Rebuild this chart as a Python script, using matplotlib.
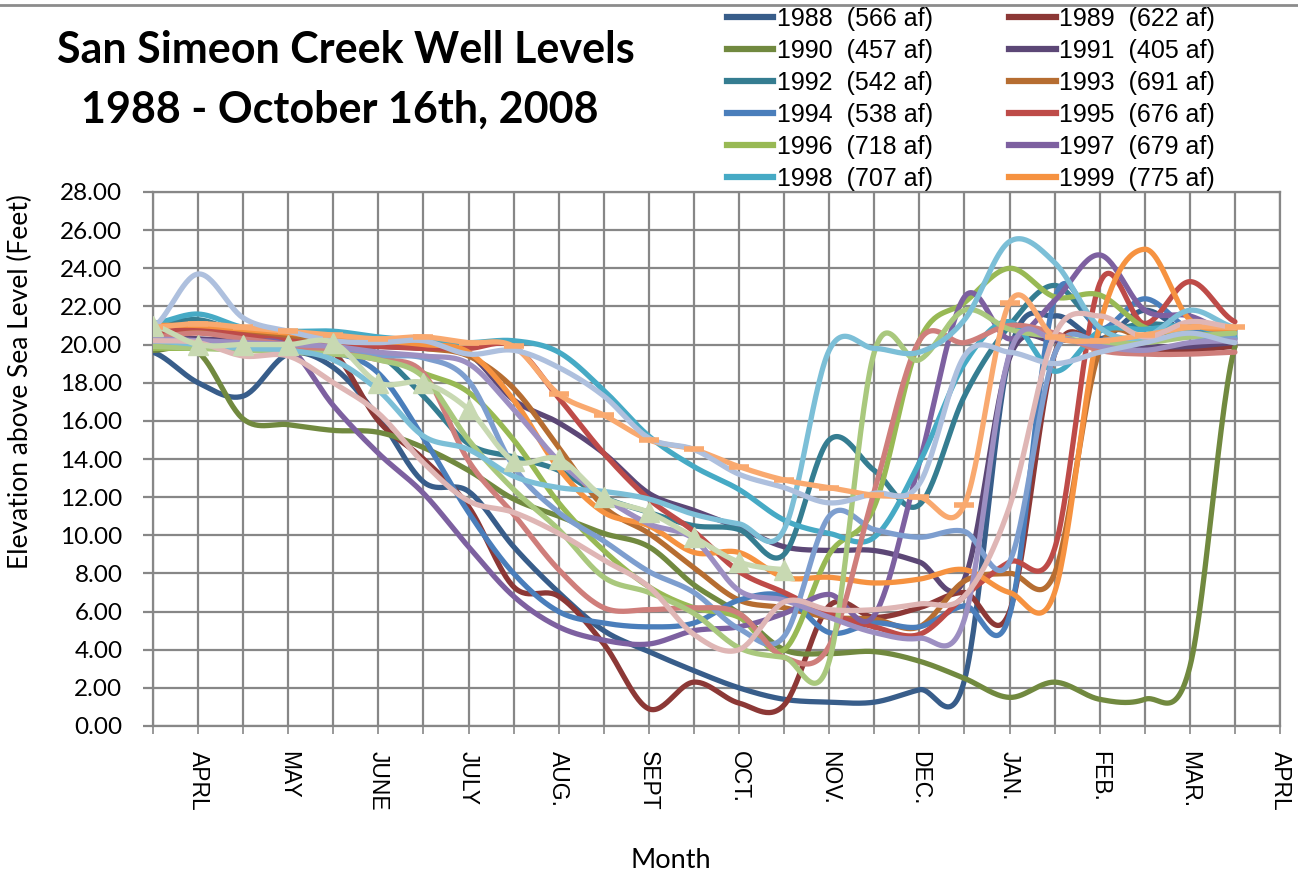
import numpy as np
import matplotlib
matplotlib.use("Agg")
import matplotlib.pyplot as plt
from matplotlib.lines import Line2D

# ----------------------------------------------------------------------
# data: well level readings (ft above sea level), two per month,
# from mid March to the following April
# ----------------------------------------------------------------------
month_labels = ["APRL", "MAY", "JUNE", "JULY", "AUG.", "SEPT", "OCT.",
                "NOV.", "DEC.", "JAN.", "FEB.", "MAR.", "APRL"]

years = ["1988", "1989", "1990", "1991", "1992", "1993",
         "1994", "1995", "1996", "1997", "1998", "1999",
         "2000", "2001", "2002", "2003", "2004", "2005", "2006", "2007", "2008"]
acre_feet = [566, 622, 457, 405, 542, 691, 538, 676, 718, 679, 707, 775]

y1988 = [19.6, 18.0, 17.3, 19.5, 18.8, 16.2, 12.8, 12.3, 9.4, 7.0, 5.0, 3.9, 2.9,
         2.0, 1.4, 1.25, 1.25, 1.9, 2.4, 19.5, 21.5, 20.3, 21.8, 20.5, 20.3]
y1989 = [20.5, 20.8, 20.5, 20.0, 19.6, 16.0, 14.0, 11.5, 7.3, 6.8, 4.3, 0.9, 2.3,
         1.2, 1.1, 6.3, 5.7, 6.2, 7.0, 6.0, 19.5, 20.0, 19.8, 19.7, 19.9]
y1990 = [19.7, 19.6, 16.1, 15.8, 15.5, 15.4, 14.6, 13.4, 11.9, 11.0, 10.1, 9.4, 7.4,
         5.9, 4.0, 3.8, 3.9, 3.4, 2.5, 1.5, 2.3, 1.4, 1.4, 3.1, 19.9]
y1991 = [20.5, 20.3, 20.2, 20.0, 20.0, 19.9, 19.8, 19.5, 17.1, 15.9, 14.3, 12.2, 11.3,
         10.4, 9.4, 9.2, 9.2, 8.6, 7.7, 19.3, 20.2, 20.0, 19.9, 19.9, 20.1]
y1992 = [21.0, 21.3, 20.6, 20.3, 20.1, 19.5, 17.3, 14.8, 14.1, 13.4, 12.0, 11.2, 10.5,
         10.3, 9.0, 15.0, 13.4, 11.6, 17.3, 21.0, 23.1, 20.9, 21.1, 20.9, 20.7]
y1993 = [20.7, 20.8, 20.7, 20.4, 20.2, 20.0, 19.8, 19.4, 17.7, 14.6, 11.5, 10.1, 8.3,
         6.6, 6.2, 5.7, 5.6, 5.2, 7.6, 8.0, 8.0, 19.7, 20.4, 20.8, 20.8]
y1994 = [20.0, 20.1, 20.0, 19.8, 19.6, 18.5, 15.1, 11.2, 8.0, 6.0, 5.4, 5.2, 5.4,
         6.6, 6.8, 4.9, 5.4, 5.2, 6.3, 5.8, 22.4, 20.8, 22.4, 20.8, 20.6]
y1995 = [20.6, 20.9, 20.5, 20.2, 20.0, 19.9, 19.8, 19.8, 19.9, 17.2, 14.3, 11.9, 10.2,
         8.1, 7.0, 5.9, 5.2, 4.8, 6.8, 8.6, 9.3, 23.2, 21.1, 23.3, 21.2]
y1996 = [19.8, 19.8, 19.8, 19.7, 19.7, 19.4, 18.5, 17.5, 15.0, 11.7, 9.2, 7.3, 6.2,
         5.7, 4.0, 9.0, 11.5, 20.2, 22.2, 24.0, 22.5, 22.6, 20.9, 20.6, 20.4]
y1997 = [20.3, 20.2, 20.1, 19.9, 16.8, 14.3, 12.2, 9.4, 6.8, 5.2, 4.5, 4.3, 5.0,
         5.2, 5.9, 6.9, 5.8, 13.8, 22.5, 20.3, 22.3, 24.7, 21.8, 21.5, 20.5]
y1998 = [21.1, 21.6, 20.9, 20.7, 20.7, 20.4, 20.2, 20.1, 20.2, 19.6, 17.6, 15.2, 13.6,
         12.4, 10.8, 10.1, 9.9, 13.8, 19.0, 21.2, 18.6, 20.7, 20.8, 21.0, 20.4]
y1999 = [21.0, 21.0, 20.8, 20.6, 20.4, 20.2, 20.0, 19.6, 17.1, 13.5, 11.2, 10.5, 9.1,
         9.1, 7.8, 7.8, 7.5, 7.7, 8.2, 7.0, 7.0, 21.0, 25.0, 21.3, 20.8]
y2000 = [20.1, 20.0, 19.9, 19.8, 19.6, 19.4, 19.3, 18.1, 13.6, 11.2, 9.7, 8.1, 7.0,
         5.1, 4.7, 11.0, 10.3, 9.9, 10.2, 8.6, 19.5, 20.2, 20.3, 20.4, 20.3]
y2001 = [20.4, 20.6, 20.3, 20.0, 19.6, 19.2, 18.5, 13.9, 11.1, 8.2, 6.2, 6.1, 6.2,
         5.9, 3.6, 4.2, 12.3, 20.2, 20.1, 21.0, 20.6, 19.7, 19.5, 19.5, 19.6]
y2002 = [19.9, 19.8, 19.7, 19.6, 19.5, 19.2, 18.3, 15.0, 12.4, 10.3, 7.8, 7.0, 5.9,
         4.1, 3.6, 3.4, 19.6, 19.2, 21.8, 20.8, 20.4, 20.1, 20.1, 20.4, 20.6]
y2003 = [20.3, 20.2, 20.1, 20.0, 19.9, 19.6, 19.4, 19.0, 16.6, 13.9, 12.0, 10.6, 9.8,
         7.1, 6.6, 5.7, 4.9, 4.6, 5.6, 19.5, 20.3, 19.9, 19.7, 20.1, 20.2]
y2004 = [20.2, 20.0, 19.8, 19.7, 19.2, 17.6, 15.2, 14.5, 13.1, 12.5, 12.3, 11.9, 11.1,
         10.6, 10.3, 19.7, 19.8, 19.6, 21.3, 25.4, 24.3, 20.9, 20.4, 21.8, 20.9]
y2005 = [20.9, 21.1, 20.9, 20.7, 20.5, 20.3, 20.4, 20.1, 19.9, 17.4, 16.3, 15.0, 14.5,
         13.6, 12.9, 12.5, 12.1, 12.0, 11.6, 22.2, 20.4, 20.2, 20.5, 20.9, 20.9]
y2006 = [20.9, 23.7, 21.4, 20.7, 20.2, 20.1, 20.2, 19.5, 19.7, 18.8, 17.3, 15.1, 14.5,
         13.2, 12.5, 11.7, 12.2, 12.7, 19.4, 19.6, 19.0, 19.6, 20.1, 20.6, 20.1]
y2007 = [20.2, 20.1, 19.4, 19.4, 18.0, 16.4, 13.8, 11.8, 11.2, 10.1, 8.7, 7.3, 4.8,
         4.0, 6.5, 6.1, 6.1, 6.4, 6.8, 11.5, 20.5, 21.5, 20.4, 21.2, 20.9]
# 2008 only runs to October 16th
y2008 = [21.0, 20.0, 20.0, 20.0, 20.1, 18.0, 18.0, 16.6, 13.9, 14.0, 12.0, 11.2, 9.9,
         8.6, 8.2]

series = [y1988, y1989, y1990, y1991, y1992, y1993, y1994, y1995, y1996, y1997,
          y1998, y1999, y2000, y2001, y2002, y2003, y2004, y2005, y2006, y2007, y2008]

colors = ["#385D8A", "#8C3836", "#71893F", "#5C4776", "#357D91", "#B66D31",
          "#4A7EBB", "#BE4B48", "#98B954", "#7D60A0", "#46AAC5", "#F69240",
          "#7D9ECF", "#CF7E7B", "#A9C87D", "#9D8FC2", "#7CBFD7", "#F9A96F",
          "#AEC0DE", "#DFB6B5", "#C8D9B2"]


def smooth(vals, n=30):
    """Excel style smoothed line (bezier through every point)."""
    v = np.asarray(vals, float)
    p = np.concatenate([[v[0]], v, [v[-1]]])
    t = np.linspace(0, 1, n, endpoint=False)
    xs, ys = [], []
    for i in range(len(v) - 1):
        p0, p1, p2, p3 = p[i], p[i + 1], p[i + 2], p[i + 3]
        c1 = p1 + (p2 - p0) / 6
        c2 = p2 - (p3 - p1) / 6
        seg = (1 - t) ** 3 * p1 + 3 * (1 - t) ** 2 * t * c1 + 3 * (1 - t) * t ** 2 * c2 + t ** 3 * p2
        xs.append(i + t)
        ys.append(seg)
    xs.append([len(v) - 1])
    ys.append([v[-1]])
    return np.concatenate(xs), np.concatenate(ys)


# ----------------------------------------------------------------------
# figure
# ----------------------------------------------------------------------
fig = plt.figure(figsize=(12.98, 8.73), dpi=100)
ax = fig.add_axes([153 / 1298, 1 - 726 / 873, (1280 - 153) / 1298, (726 - 192) / 873])

grid_col = "#878787"
for yr, vals, col in zip(years, series, colors):
    xs, ys = smooth(vals)
    ax.plot(xs, ys, color=col, lw=3.8, solid_capstyle="round", zorder=3)

# markers on the two marked series
ax.plot(range(len(y2005)), y2005, ls="none", marker="_", ms=14, mew=4,
        color=colors[17], zorder=3)
ax.plot(range(len(y2008)), y2008, ls="none", marker="^", ms=15,
        color=colors[20], mec=colors[20], zorder=4)

ax.set_xlim(0, 25)
ax.set_ylim(0, 28)
ax.set_yticks(np.arange(0, 28.1, 2))
ax.set_yticklabels([f"{v:.2f}" for v in np.arange(0, 28.1, 2)])
ax.set_xticks(range(26))
xlabels = [""] * 26
for k, m in enumerate(month_labels):
    xlabels[2 * k + 1] = m
ax.set_xticklabels(xlabels, rotation=-90, va="top", ha="center",
                   family="Liberation Sans", fontsize=16.5)
ax.grid(True, color=grid_col, lw=1.6)
ax.set_axisbelow(True)
for s in ax.spines.values():
    s.set_color(grid_col)
    s.set_linewidth(1.6)
ax.tick_params(axis="y", length=7, width=1.6, color=grid_col, pad=15,
               labelsize=17.5)
ax.tick_params(axis="x", length=6, width=1.2, color=grid_col, pad=12)
for lab in ax.get_yticklabels():
    lab.set_family("Lato")

# titles and axis titles
fig.text(346 / 1298, 1 - 50 / 873, "San Simeon Creek Well Levels",
         ha="center", va="center", fontsize=31, fontweight="bold", family="Lato")
fig.text(340 / 1298, 1 - 110 / 873, "1988 - October 16th, 2008",
         ha="center", va="center", fontsize=31, fontweight="bold", family="Lato")
fig.text(20 / 1298, 1 - 382 / 873, "Elevation above Sea Level (Feet)",
         rotation=90, ha="center", va="center", fontsize=19, family="Lato")
fig.text(671 / 1298, 1 - 860 / 873, "Month", ha="center", va="center",
         fontsize=19.5, family="Lato")

# top border line
fig.add_artist(Line2D([0, 1], [1 - 5 / 873, 1 - 5 / 873], color="#8c8c8c", lw=2))

# legend (only the first twelve years), row-wise order
legend_years = years[:12]
labels = [f"{y}  ({a} af)" for y, a in zip(legend_years, acre_feet)]
order = list(range(0, 12, 2)) + list(range(1, 12, 2))
leg_handles = [Line2D([], [], color=colors[i], lw=4.5) for i in order]
leg_labels = [labels[i] for i in order]
fig.legend(leg_handles, leg_labels, ncol=2, loc="upper left",
           bbox_to_anchor=(727 / 1298, 1 - 7 / 873), frameon=False,
           prop={"family": "Liberation Sans", "size": 18},
           handlelength=1.85, handletextpad=0.15, columnspacing=3.05,
           labelspacing=0.32, borderpad=0, borderaxespad=0)

fig.savefig("out.png", dpi=100)
